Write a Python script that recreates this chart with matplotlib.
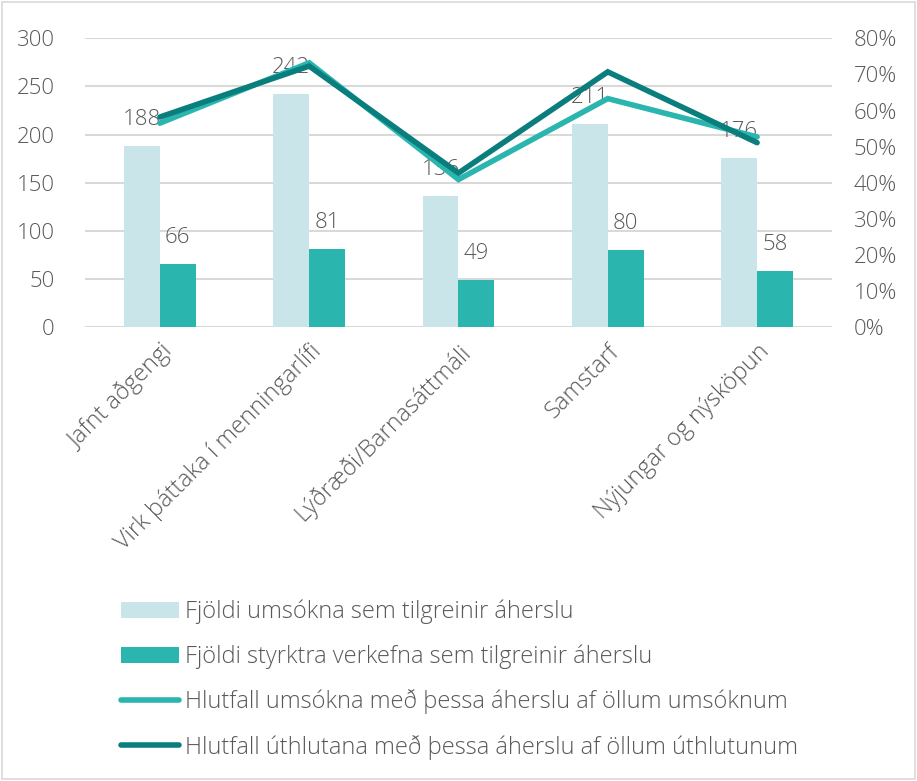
import matplotlib.pyplot as plt
import numpy as np
from matplotlib.patches import Rectangle

plt.rcParams['font.family'] = ['Open Sans', 'DejaVu Sans']
plt.rcParams['font.weight'] = 'light'

categories = ["Jafnt aðgengi", "Virk þáttaka í menningarlífi", "Lýðræði/Barnasáttmáli",
              "Samstarf", "Nýjungar og nýsköpun"]
umsoknir = [188, 242, 136, 211, 176]
styrkt = [66, 81, 49, 80, 58]
hlutfall_umsokna = [56.5, 73.2, 40.9, 63.3, 52.7]
hlutfall_uthlutana = [58.2, 72.3, 42.7, 70.7, 51.1]

light = "#C9E5EA"
teal = "#2BB5AF"
dark = "#0A7E7D"
txt = "#595959"
grid = "#D9D9D9"
fs = 16

fig = plt.figure(figsize=(9.17, 7.81), dpi=100)
ax = fig.add_axes([0.093, 0.581, 0.814, 0.370])
ax2 = ax.twinx()

x = np.arange(len(categories))
w = 0.24
b1 = ax.bar(x - w / 2, umsoknir, w, color=light, zorder=2,
            label="Fjöldi umsókna sem tilgreinir áherslu")
b2 = ax.bar(x + w / 2, styrkt, w, color=teal, zorder=2,
            label="Fjöldi styrktra verkefna sem tilgreinir áherslu")
for rect, v in zip(list(b1) + list(b2), umsoknir + styrkt):
    ax.annotate(str(v), (rect.get_x() + rect.get_width() / 2, v),
                xytext=(0, 19), textcoords="offset points", ha="center", va="center",
                fontsize=fs, color=txt, zorder=5)

l1, = ax2.plot(x, hlutfall_umsokna, color=teal, lw=4, solid_capstyle="round",
               solid_joinstyle="miter", label="Hlutfall umsókna með þessa áherslu af öllum umsóknum")
l2, = ax2.plot(x, hlutfall_uthlutana, color=dark, lw=4, solid_capstyle="round",
               solid_joinstyle="miter", label="Hlutfall úthlutana með þessa áherslu af öllum úthlutunum")

ax.set_xlim(-0.5, len(categories) - 0.5)
ax.set_ylim(0, 300)
ax.set_yticks(range(0, 301, 50))
ax2.set_ylim(0, 80)
ax2.set_yticks(range(0, 81, 10))
ax2.set_yticklabels([f"{v}%" for v in range(0, 81, 10)])
ax.grid(axis="y", color=grid, lw=1.5, zorder=0)
ax.set_axisbelow(True)
for a in (ax, ax2):
    for s in a.spines.values():
        s.set_visible(False)
    a.tick_params(length=0, labelsize=fs, colors=txt)
ax.tick_params(axis="y", pad=22)
ax2.tick_params(axis="y", pad=16)
ax.set_xticks(x)
ax.set_xticklabels(categories, rotation=45, ha="right", rotation_mode="anchor", fontsize=17)
ax.tick_params(axis="x", pad=9)

handles = [b1, b2, l1, l2]
leg = fig.legend(handles, [h.get_label() for h in handles], loc="upper left",
                 bbox_to_anchor=(0.132, 0.232), frameon=False, fontsize=17,
                 labelcolor=txt, handlelength=2.45, handletextpad=0.25, labelspacing=0.86,
                 borderpad=0, borderaxespad=0)

fig.patches.append(Rectangle((0.002, 0.002), 0.996, 0.996, transform=fig.transFigure,
                             fill=False, edgecolor=grid, lw=1.2))

fig.savefig("out.png", dpi=100)
